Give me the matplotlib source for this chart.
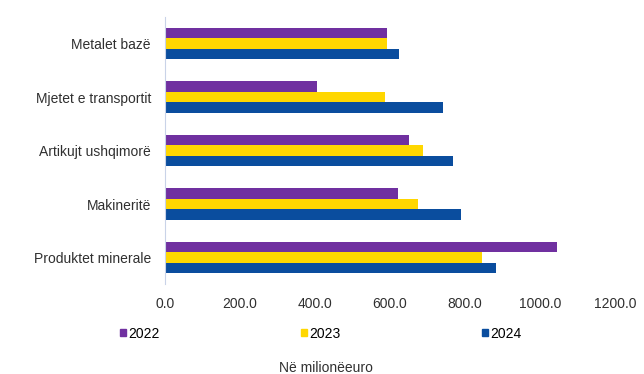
import numpy as np
import matplotlib.pyplot as plt
from matplotlib.patches import Patch

plt.rcParams['font.family'] = ['Liberation Sans', 'DejaVu Sans']

# të dhënat (lexuar nga grafiku), në milionë euro
categories = ['Metalet bazë', 'Mjetet e transportit', 'Artikujt ushqimorë',
              'Makineritë', 'Produktet minerale']
years = ['2022', '2023', '2024']
v2022 = [591, 406, 651, 621, 1046]
v2023 = [591, 586, 689, 676, 845]
v2024 = [625, 741, 767, 789, 883]
colors = ['#7030A0', '#FFD700', '#0A4D9E']

fs = 10
txt = '#303030'
fig = plt.figure(figsize=(6.44, 3.74), dpi=100)
ax = fig.add_axes([0.256, 0.24, 0.699, 0.715])

y = np.arange(len(categories))
h = 0.198
for i, (vals, c) in enumerate(zip([v2022, v2023, v2024], colors)):
    ax.barh(y + (i - 1) * h, vals, height=h, color=c, label=years[i])

ax.set_ylim(len(categories) - 0.5, -0.5)
ax.set_xlim(0, 1200)
ax.set_yticks(y)
ax.set_yticklabels(categories, fontsize=fs, color=txt)
ax.set_xticks(np.arange(0, 1201, 200))
ax.set_xticklabels([f'{v:.1f}' for v in np.arange(0, 1201, 200)], fontsize=fs, color=txt)
ax.tick_params(axis='both', length=0)
ax.tick_params(axis='x', pad=9)
ax.tick_params(axis='y', pad=10)
for s in ['top', 'right', 'bottom']:
    ax.spines[s].set_visible(False)
ax.spines['left'].set_color('#C9D3E8')
ax.spines['left'].set_linewidth(0.8)

handles = [Patch(color=c) for c in colors]
fig.legend(handles, years, ncol=3, loc='center', bbox_to_anchor=(0.498, 0.108),
           frameon=False, fontsize=fs, handlelength=0.45, handleheight=0.45,
           handletextpad=0.15, columnspacing=10.2, borderpad=0)
fig.text(0.506, 0.017, 'Në milionëeuro', ha='center', va='center', fontsize=fs, color=txt)

fig.savefig('out.png', dpi=100)
